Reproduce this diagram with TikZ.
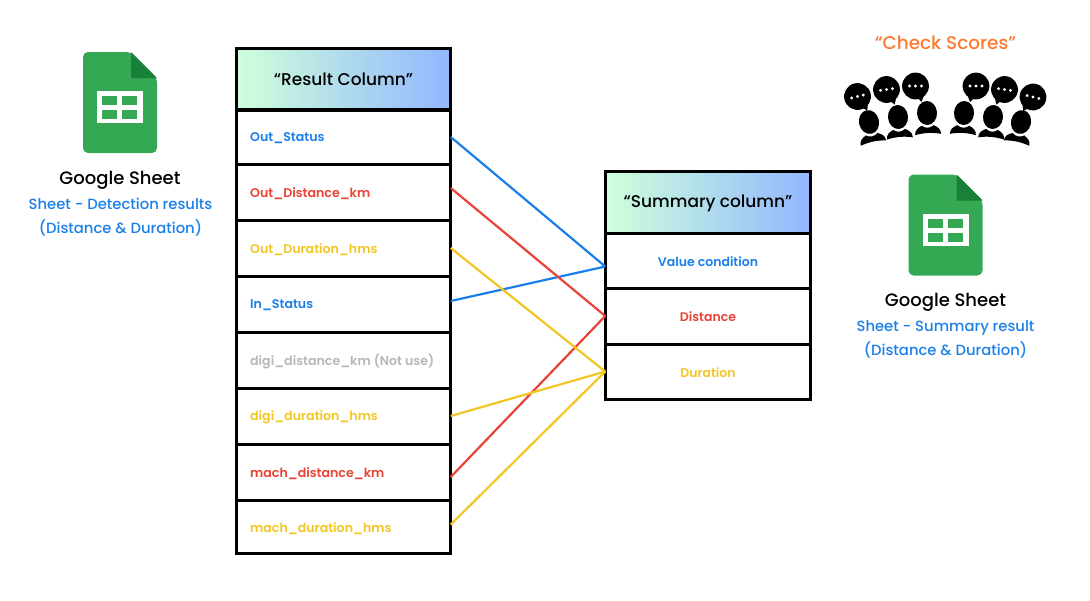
\documentclass[tikz,border=0pt]{standalone}
\usepackage{fontspec}
\setmainfont{Poppins}
\newfontfamily\medf{Poppins Medium}
\newfontfamily\semif{Poppins SemiBold}
\usetikzlibrary{calc}
\definecolor{cblue}{HTML}{1A7FE8}
\definecolor{cred}{HTML}{EA4335}
\definecolor{cyel}{HTML}{F3C623}
\definecolor{cgray}{HTML}{B7B7B7}
\definecolor{corange}{HTML}{FF7A2F}
\definecolor{sgreen}{HTML}{34A853}
\definecolor{sdark}{HTML}{188038}
\definecolor{gradL}{HTML}{CFFFDA}
\definecolor{gradR}{HTML}{92B7FF}
\tikzset{
  x=1pt,y=-1pt,
  cellbox/.style={draw=black,line width=3pt,fill=white,rectangle,inner sep=0pt,outer sep=0pt},
  headbox/.style={cellbox,left color=gradL,right color=gradR},
  headlabel/.style={font=\fontsize{17}{20}\medf,inner sep=0pt},
  rowlabel/.style={font=\fontsize{12.6}{17}\semif,anchor=west,inner sep=0pt},
  sumlabel/.style={font=\fontsize{12.5}{17}\semif,inner sep=0pt},
  link/.style={line width=2.2pt},
  title/.style={font=\fontsize{18}{23}\medf,inner sep=0pt},
  subtitle/.style={font=\fontsize{14.8}{24}\medf,text=cblue,align=center,inner sep=0pt},
  sheet/.pic={
    \fill[sgreen,rounded corners=5pt] (0,0) -- (48,0) -- (74,26) -- (74,101) -- (0,101) -- cycle;
    \fill[sdark] (48,0) -- (74,26) -- (48,26) -- cycle;
    \fill[white] (14,39) rectangle (60,71);
    \fill[sgreen] (19,44) rectangle (34,53);
    \fill[sgreen] (39,44) rectangle (54,53);
    \fill[sgreen] (19,58) rectangle (34,67);
    \fill[sgreen] (39,58) rectangle (54,67);
  },
  person/.pic={
    \fill[black] (0,0) ellipse[x radius=10,y radius=12];
    \fill[black] (-13,21.5) .. controls (-13,16.5) and (-10,14.5) .. (-6,12.5) .. controls (-2,15.5) and (2,15.5) .. (6,12.5)
      .. controls (10,14.5) and (13,16.5) .. (13,21.5) .. controls (4,19.5) and (-4,19.5) .. (-13,21.5) -- cycle;
  },
  bubbleL/.pic={
    \fill[black] (0,0) circle[radius=13.4];
    \fill[black] (1,11) -- (6,16) -- (9,8) -- cycle;
    \foreach \d in {-6,0,6}{\fill[white] (\d,0) circle[radius=1.6];}
  },
  bubbleR/.pic={
    \fill[black] (0,0) circle[radius=13.4];
    \fill[black] (-1,11) -- (-6,16) -- (-9,8) -- cycle;
    \foreach \d in {-6,0,6}{\fill[white] (\d,0) circle[radius=1.6];}
  },
}
\begin{document}
\begin{tikzpicture}
\useasboundingbox (0,0) rectangle (1090,600);
% left icon and captions
\pic at (83,52) {sheet};
\node[title] (gs1) at (120,180) {Google Sheet};
\node[subtitle] (sub1) at (120.5,217.5) {Sheet - Detection results\\(Distance \& Duration)};
% right icon and captions
\node[font=\fontsize{18.4}{22}\medf,text=corange,inner sep=0pt] (chk) at (945.5,43) {“Check Scores”};
\pic at (908.5,174.5) {sheet};
\node[title] (gs2) at (945.5,302) {Google Sheet};
\node[subtitle] (sub2) at (945.5,339.5) {Sheet - Summary result\\(Distance \& Duration)};
% crowd
\pic[rotate=14] at (857.5,96.5) {bubbleL};
\pic[rotate=8] at (886.5,89.5) {bubbleL};
\pic at (915.5,86) {bubbleL};
\pic at (976,86) {bubbleR};
\pic[rotate=-8] at (1004.5,89.5) {bubbleR};
\pic[rotate=-14] at (1033,97) {bubbleR};
\pic[rotate=12] at (869,122) {person};
\pic[rotate=5] at (898,117) {person};
\pic[rotate=3] at (927,113) {person};
\pic[xscale=-1,rotate=3] at (964,113) {person};
\pic[xscale=-1,rotate=5] at (993,117) {person};
\pic[xscale=-1,rotate=12] at (1021,122) {person};
% result table
\node[headbox,minimum width=214.5pt,minimum height=61.5pt] (rh) at (343.5,79) {};
\node[headlabel] (rht) at (343.5,79) {“Result Column”};
\foreach \n/\ya/\yb in {r1/110/164,r2/164/220,r3/220/276,r4/276/332,r5/332/388,r6/388/444,r7/444/500,r8/500/553}{
  \pgfmathsetmacro{\yc}{(\ya+\yb)/2}
  \pgfmathsetmacro{\hh}{\yb-\ya}
  \node[cellbox,minimum width=214.5pt,minimum height=\hh pt] (\n) at (343.5,\yc) {};
}
\node[rowlabel,text=cblue] (t1) at (250,138.5) {Out\_Status};
\node[rowlabel,text=cred] (t2) at (250,193.5) {Out\_Distance\_km};
\node[rowlabel,text=cyel] (t3) at (250,249.5) {Out\_Duration\_hms};
\node[rowlabel,text=cblue] (t4) at (250,305.5) {In\_Status};
\node[rowlabel,text=cgray] (t5) at (250,361.5) {digi\_distance\_km (Not use)};
\node[rowlabel,text=cyel] (t6) at (250,417.5) {digi\_duration\_hms};
\node[rowlabel,text=cred] (t7) at (250,473.5) {mach\_distance\_km};
\node[rowlabel,text=cyel] (t8) at (250,528.5) {mach\_duration\_hms};
% summary table
\node[headbox,minimum width=205.5pt,minimum height=62pt] (sh) at (708,202) {};
\node[headlabel] (sht) at (708,203.5) {“Summary column”};
\node[cellbox,minimum width=205.5pt,minimum height=55pt] (s1) at (708,260.5) {};
\node[cellbox,minimum width=205.5pt,minimum height=56pt] (s2) at (708,316) {};
\node[cellbox,minimum width=205.5pt,minimum height=55pt] (s3) at (708,371.5) {};
\node[sumlabel,text=cblue] (u1) at (708,261.5) {Value condition};
\node[sumlabel,text=cred] (u2) at (708,316.5) {Distance};
\node[sumlabel,text=cyel] (u3) at (708,372.5) {Duration};
% connectors
\draw[link,cblue] (r1.east) -- ([yshift=-6pt]s1.west);
\draw[link,cblue] ([yshift=3pt]r4.east) -- ([yshift=-6pt]s1.west);
\draw[link,cred] ([yshift=4pt]r2.east) -- (s2.west);
\draw[link,cred] ([yshift=-5pt]r7.east) -- (s2.west);
\draw[link,cyel] (r3.east) -- (s3.west);
\draw[link,cyel] (r6.east) -- (s3.west);
\draw[link,cyel] ([yshift=2pt]r8.east) -- (s3.west);
\end{tikzpicture}
\end{document}
